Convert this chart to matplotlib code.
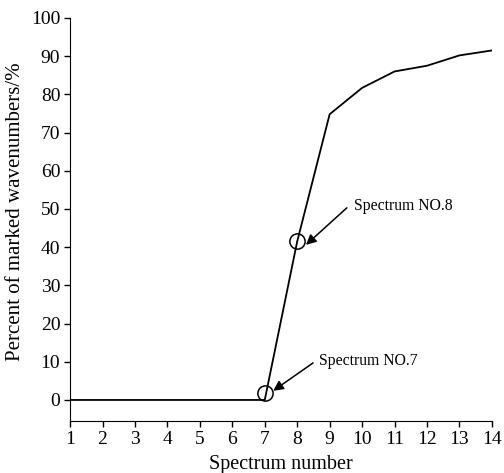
import matplotlib.pyplot as plt

spectrum = [1, 2, 3, 4, 5, 6, 7, 8, 9, 10, 11, 12, 13, 14]
percent = [0, 0, 0, 0, 0, 0, 0, 41.5, 74.8, 81.7, 86.0, 87.5, 90.2, 91.5]
marked_x = [7, 8]
marked_y = [1.9, 41.5]
labels = ["Spectrum NO.7", "Spectrum NO.8"]

plt.rcParams['font.family'] = 'Liberation Serif'

fig = plt.figure(figsize=(5.04, 4.73), dpi=100)
ax = fig.add_axes([0.139, 0.110, 0.837, 0.852])

ax.plot(spectrum, percent, color='black', linewidth=1.3)
ax.plot(marked_x, marked_y, 'o', markersize=11, markerfacecolor='none',
        markeredgecolor='black', markeredgewidth=1.1)

# arrow heads / tails and label spots, in data units
heads = [(7.26, 2.4), (8.27, 40.6)]
tails = [(8.49, 9.7), (9.53, 50.3)]
text_pos = [(8.68, 10.2), (9.75, 50.8)]
for lab, h, t, p in zip(labels, heads, tails, text_pos):
    ax.annotate('', xy=h, xytext=t,
                arrowprops=dict(arrowstyle='-|>', color='black', lw=1.1,
                                mutation_scale=15, shrinkA=0, shrinkB=0))
    ax.text(p[0], p[1], lab, fontsize=11.3, va='center', ha='left')

ax.set_xlim(1, 14)
ax.set_ylim(-5.5, 100)
ax.set_xticks(spectrum)
ax.set_yticks(range(0, 101, 10))
ax.tick_params(labelsize=14, direction='out', length=4, width=1, pad=3)
ax.spines['top'].set_visible(False)
ax.spines['right'].set_visible(False)
ax.set_xlabel("Spectrum number", fontsize=14.5, labelpad=5)
ax.set_ylabel("Percent of marked wavenumbers/%", fontsize=15)
ax.yaxis.set_label_coords(-0.107, 0.52)

fig.savefig("out.png", dpi=100)
